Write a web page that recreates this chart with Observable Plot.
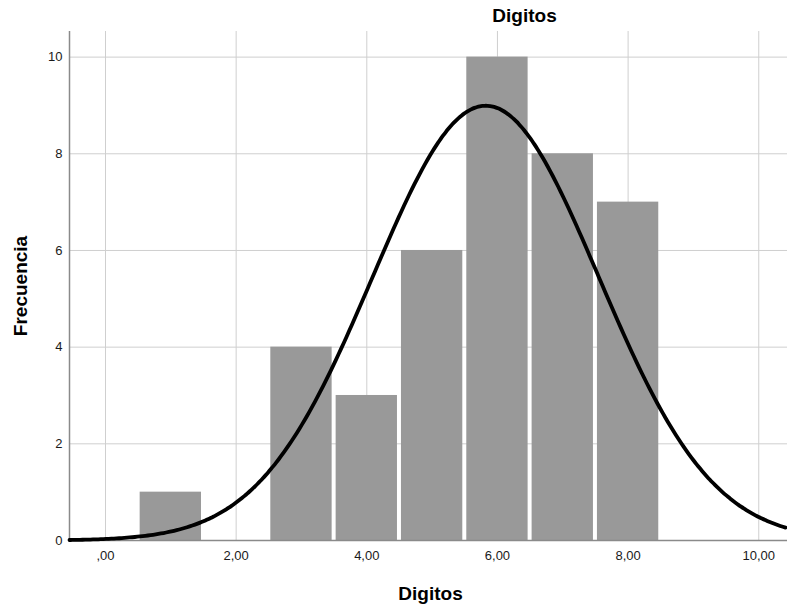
<!DOCTYPE html>
<html>
<head>
<meta charset="utf-8">
<script src="https://cdn.jsdelivr.net/npm/d3@7"></script>
<script src="https://cdn.jsdelivr.net/npm/@observablehq/plot@0.6"></script>
<style>
  html, body { margin: 0; padding: 0; background: #fff; }
  #chart { width: 787px; height: 607px; }
</style>
</head>
<body>
<div id="chart"></div>
<script>
// Histogram bins (bin centres) and counts
const binCenters = [1, 3, 4, 5, 6, 7, 8];
const counts     = [1, 4, 3, 6, 10, 8, 7];
const binWidth = 1;

// Fitted normal curve parameters (as shown by the overlay)
const curveMean = 5.82;
const curveSd = 1.73;
const curveN = 39;

// Axis ticks and labels
const xTicks = [0, 2, 4, 6, 8, 10];
const xTickLabels = [",00", "2,00", "4,00", "6,00", "8,00", "10,00"];
const yTicks = [0, 2, 4, 6, 8, 10];

const titleText = "Digitos";
const xTitle = "Digitos";
const yTitle = "Frecuencia";

const xDomain = [-0.551, 10.44];
const yDomain = [0, 10.53];

const bars = binCenters.map((c, i) => ({x1: c - binWidth / 2, x2: c + binWidth / 2, y: counts[i]}));

const curve = d3.range(xDomain[0], xDomain[1] + 0.001, 0.04).map(x => ({
  x,
  y: curveN * binWidth / (curveSd * Math.sqrt(2 * Math.PI)) * Math.exp(-0.5 * ((x - curveMean) / curveSd) ** 2)
}));

const font = "'Liberation Sans', Arial, sans-serif";

const chart = Plot.plot({
  width: 787,
  height: 607,
  marginLeft: 69,
  marginRight: 0,
  marginTop: 31,
  marginBottom: 67,
  style: { fontFamily: font, fontSize: "13px", background: "#fff", color: "#1a1a1a" },
  x: { domain: xDomain },
  y: { domain: yDomain },
  marks: [
    Plot.gridX(xTicks, { stroke: "#cfcfcf", strokeOpacity: 1 }),
    Plot.gridY(yTicks, { stroke: "#cfcfcf", strokeOpacity: 1 }),
    Plot.rectY(bars, { x1: "x1", x2: "x2", y: "y", fill: "#999999", insetLeft: 2, insetRight: 2 }),
    Plot.ruleY([yDomain[0]], { stroke: "#8a8a8a", strokeWidth: 1.5 }),
    Plot.ruleX([xDomain[0]], { stroke: "#8a8a8a", strokeWidth: 1.5 }),
    Plot.line(curve, { x: "x", y: "y", stroke: "#000", strokeWidth: 3.8, curve: "natural" }),
    Plot.axisX(xTicks, { tickSize: 0, tickPadding: 10, tickFormat: (d, i) => xTickLabels[i], label: null, fontSize: 13 }),
    Plot.axisY(yTicks, { tickSize: 0, tickPadding: 7, label: null, fontSize: 13 }),
    Plot.text([titleText], { frameAnchor: "top", dx: 96, dy: -16, lineAnchor: "middle", textAnchor: "middle", fontWeight: "bold", fontSize: 19, fill: "#000" }),
    Plot.text([xTitle], { frameAnchor: "bottom", dx: 2, dy: 53, lineAnchor: "middle", textAnchor: "middle", fontWeight: "bold", fontSize: 19, fill: "#000" }),
    Plot.text([yTitle], { frameAnchor: "left", dx: -49, rotate: -90, lineAnchor: "middle", textAnchor: "middle", fontWeight: "bold", fontSize: 19, fill: "#000" })
  ]
});

document.getElementById("chart").appendChild(chart);
</script>
</body>
</html>
